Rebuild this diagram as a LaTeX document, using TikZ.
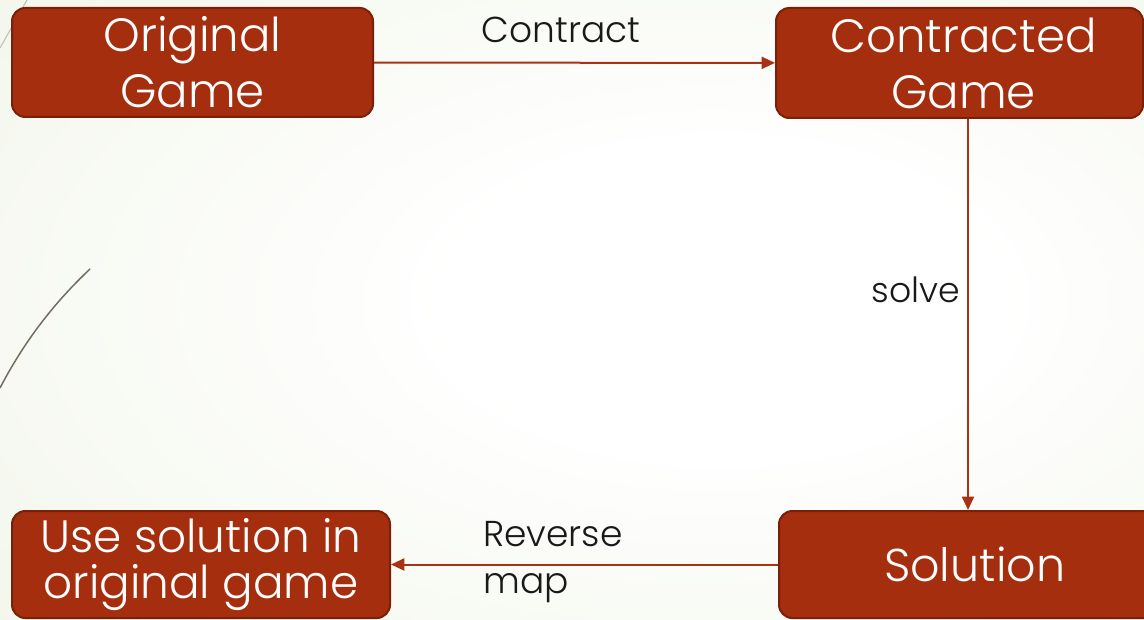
\documentclass[tikz,border=0pt]{standalone}
\usepackage{fontspec}
\IfFontExistsTF{Poppins Light}{\setmainfont{Poppins Light}}{\setmainfont{Poppins}}
\usetikzlibrary{arrows.meta,calc}
\definecolor{boxfill}{RGB}{165,46,15}
\definecolor{boxline}{RGB}{122,32,9}
\definecolor{arrowc}{RGB}{168,50,22}
\definecolor{bgouter}{RGB}{228,236,212}
\definecolor{deco}{RGB}{115,107,92}
\definecolor{decolight}{RGB}{190,196,180}
\pgfdeclareradialshading{bgshade}{\pgfpoint{8bp}{1bp}}{color(0bp)=(white); color(12bp)=(white); color(70bp)=(bgouter)}
\begin{document}
\begin{tikzpicture}[x=0.75pt,y=-0.75pt,
  gbox/.style={draw=boxline, line width=1.5pt, fill=boxfill, rounded corners=10pt,
    text=white, font=\fontsize{35}{42}\selectfont, align=center, inner sep=0pt},
  conn/.style={draw=arrowc, line width=1.5pt, -{Triangle[length=10pt,width=9pt]}},
  lbl/.style={text=black!90, font=\fontsize{27}{35}\selectfont, inner sep=0pt}]
\useasboundingbox (0,0) rectangle (1144,620);
\shade[shading=bgshade] (0,0) rectangle (1144,620);
% decorative theme lines
\draw[decolight, line width=0.8pt] (0,48) -- (27,0);
\draw[deco, line width=1.1pt] (0,388) .. controls (25,340) and (55,302) .. (90,269);
% boxes
\node[gbox, minimum width=270.75pt, minimum height=81.75pt] (og) at (192.5,62.5) {Original\\Game};
\node[gbox, minimum width=275.25pt, minimum height=82.5pt] (cg) at (959.5,63) {\hspace*{6pt}Contracted\\\hspace*{6pt}Game};
\node[gbox, minimum width=283.5pt, minimum height=80.25pt, font=\fontsize{34}{34.5}\selectfont] (use) at (201,564.5) {Use solution in\\original game};
\node[gbox, minimum width=283.5pt, minimum height=80.25pt, font=\fontsize{34.5}{40}\selectfont] (sol) at (968,564.5) {\hspace*{10pt}Solution};
% connectors
\draw[conn] (og) -- (cg);
\draw[conn] (sol.north |- cg.south) -- (sol);
\draw[conn] (sol) -- (use);
% labels
\node[lbl] (lc) at (561,30) {Contract};
\node[lbl, anchor=base east, font=\fontsize{26}{35}\selectfont] (ls) at (960,302) {solve};
\node[lbl, anchor=west, align=left] (lr) at (483,562) {Reverse\\map};
\end{tikzpicture}
\end{document}
